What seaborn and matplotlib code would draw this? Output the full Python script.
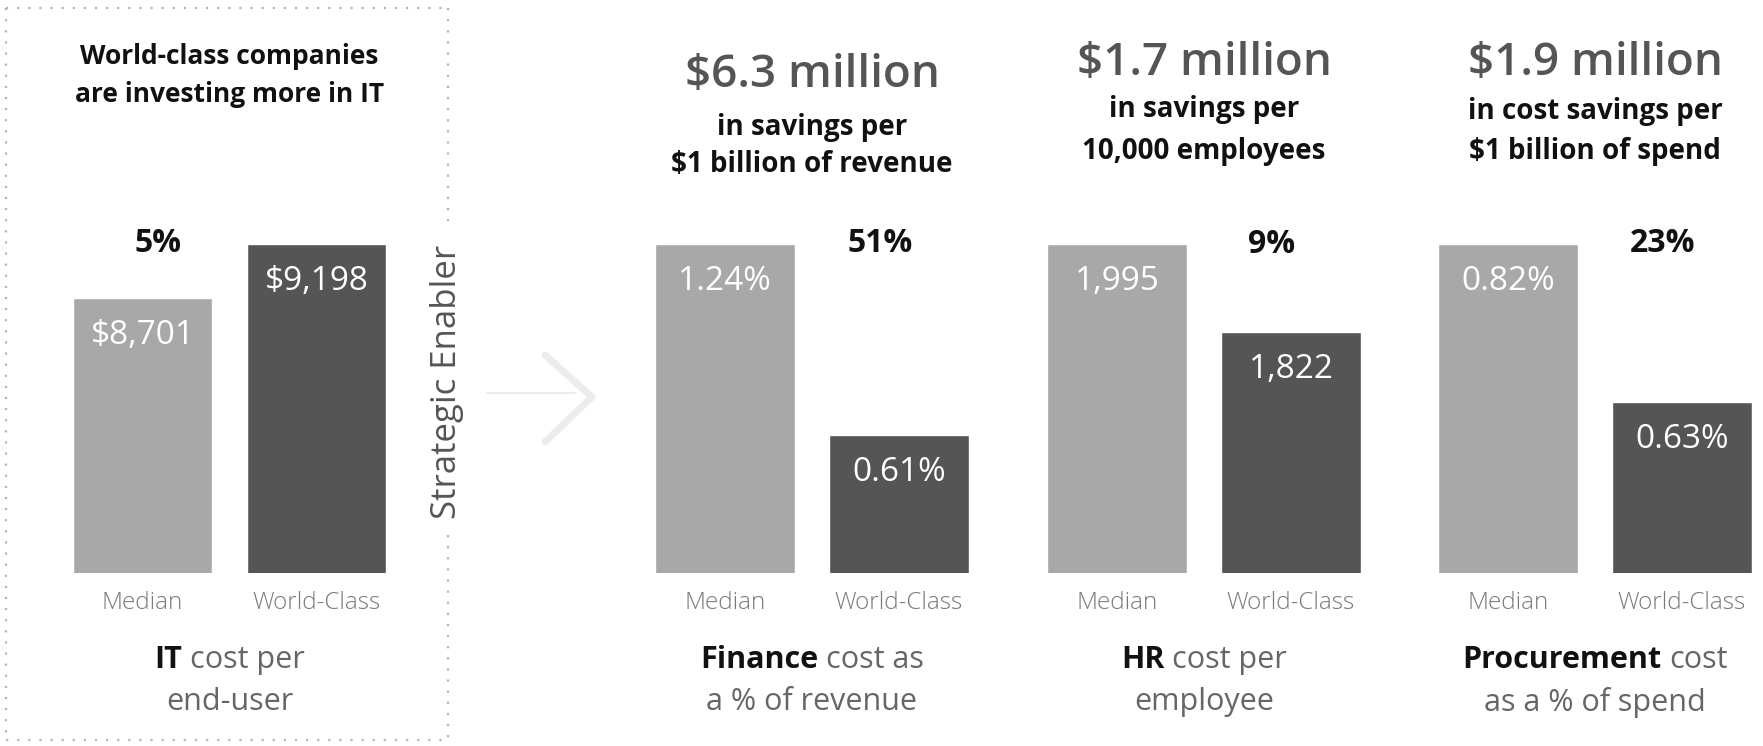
import matplotlib
matplotlib.use("Agg")
import matplotlib.pyplot as plt
from matplotlib.lines import Line2D
import seaborn as sns
import pandas as pd

# ---------------- data ----------------
categories = ["Median", "World-Class"]
it_values = [8701, 9198]
finance_values = [1.24, 0.61]
hr_values = [1995, 1822]
procurement_values = [0.82, 0.63]

it_labels = ["$8,701", "$9,198"]
finance_labels = ["1.24%", "0.61%"]
hr_labels = ["1,995", "1,822"]
procurement_labels = ["0.82%", "0.63%"]

gap_labels = ["5%", "51%", "9%", "23%"]

headline_amounts = ["$6.3 million", "$1.7 million", "$1.9 million"]
headline_line1 = ["in savings per", "in savings per", "in cost savings per"]
headline_line2 = ["$1 billion of revenue", "10,000 employees", "$1 billion of spend"]

caption_bold = ["IT", "Finance", "HR", "Procurement"]
caption_rest1 = ["cost per", "cost as", "cost per", "cost"]
caption_line2 = ["end-user", "a % of revenue", "employee", "as a % of spend"]

it_title = ["World-class companies", "are investing more in IT"]
side_label = "Strategic Enabler"

# ---------------- styling / layout ----------------
sns.set_theme(style="white")
plt.rcParams["font.family"] = ["Open Sans", "DejaVu Sans"]

W, H = 1763, 746
DPI = 100
fig = plt.figure(figsize=(W / DPI, H / DPI), dpi=DPI)
fig.patch.set_facecolor("white")

C_MED = "#a8a8a8"
C_WC = "#555555"

def fx(x):
    return x / W

def fy(y):
    return 1 - y / H

panel_values = [it_values, finance_values, hr_values, procurement_values]
panel_labels = [it_labels, finance_labels, hr_labels, procurement_labels]
axis_floor = [6170, 0.157, 1350, 0.424]   # truncated value axes
bar0_center = [142.5, 725, 1117, 1508]
unit = 174
ax_top, ax_bot = 244, 573
gap_xpos = [0.09, 0.89, 0.89, 0.89]

axes = []
for i in range(4):
    left = bar0_center[i] - 0.42 * unit
    ax = fig.add_axes([fx(left), fy(ax_bot), 1.84 * unit / W, (ax_bot - ax_top) / H])
    df = pd.DataFrame({"cat": categories, "val": panel_values[i]})
    sns.barplot(data=df, x="cat", y="val", hue="cat", palette=[C_MED, C_WC],
                order=categories, hue_order=categories, width=0.8,
                saturation=1, legend=False, ax=ax)
    ax.set_xlim(-0.42, 1.42)
    ax.set_ylim(axis_floor[i], max(panel_values[i]))
    for s in ax.spines.values():
        s.set_visible(False)
    ax.set_yticks([])
    ax.set_xlabel("")
    ax.set_ylabel("")
    ax.tick_params(axis="x", length=0, pad=13, labelsize=17.5, labelcolor="#7a7a7a")
    for tl in ax.get_xticklabels():
        tl.set_fontweight("light")
    ax.set_facecolor("none")
    for j, v in enumerate(panel_values[i]):
        ax.annotate(panel_labels[i][j], (j, v), xytext=(0, -27), textcoords="offset points",
                    ha="center", va="center", color="white", fontsize=24,
                    annotation_clip=False)
    ax.text(gap_xpos[i], max(panel_values[i]), gap_labels[i], ha="center", va="center",
            fontsize=23, weight="bold", color="#111111", clip_on=False)
    axes.append(ax)

panel_center = [c + unit / 2 for c in bar0_center]

# IT panel title
fig.text(fx(panel_center[0]), fy(57), it_title[0], ha="center", va="center",
         fontsize=19, weight="bold", color="#111111")
fig.text(fx(panel_center[0]), fy(95), it_title[1], ha="center", va="center",
         fontsize=19, weight="bold", color="#111111")

# headlines for the other panels
head_y = [(76, 128, 165), (63, 110, 151), (63, 111, 151)]
for k in range(3):
    cx = panel_center[k + 1]
    y0, y1, y2 = head_y[k]
    fig.text(fx(cx), fy(y0), headline_amounts[k], ha="center", va="center",
             fontsize=33, weight="semibold", color="#555555")
    fig.text(fx(cx), fy(y1), headline_line1[k], ha="center", va="center",
             fontsize=20, weight="bold", color="#111111")
    fig.text(fx(cx), fy(y2), headline_line2[k], ha="center", va="center",
             fontsize=20, weight="bold", color="#111111")

# captions under the panels (mixed bold / regular)
renderer = fig.canvas.get_renderer()
for i in range(4):
    cx = panel_center[i]
    t1 = fig.text(0, fy(660), caption_bold[i], ha="left", va="center",
                  fontsize=22, weight="bold", color="#111111")
    t2 = fig.text(0, fy(660), caption_rest1[i], ha="left", va="center",
                  fontsize=22, color="#666666")
    tsp = fig.text(0, 0, "a a", fontsize=22)
    tnsp = fig.text(0, 0, "aa", fontsize=22)
    w1 = t1.get_window_extent(renderer).width
    w2 = t2.get_window_extent(renderer).width
    ws = tsp.get_window_extent(renderer).width - tnsp.get_window_extent(renderer).width
    tsp.remove()
    tnsp.remove()
    start = cx - (w1 + ws + w2) / 2
    t1.set_x(fx(start))
    t2.set_x(fx(start + w1 + ws))
    fig.text(fx(cx), fy(702), caption_line2[i], ha="center", va="center",
             fontsize=22, color="#666666")

# side label
fig.text(fx(447), fy(382), side_label, rotation=90, ha="center", va="center",
         fontsize=25, color="#555555")

# dotted frame around IT panel
dot = dict(transform=fig.transFigure, color="#b5b5b5", lw=1.6,
           linestyle=(0, (1, 4)))
xl, xr, yt, yb = 6, 448, 8, 740
for seg in [([xl, xr], [yt, yt]), ([xl, xr], [yb, yb]), ([xl, xl], [yt, yb]),
            ([xr, xr], [yt, 228]), ([xr, xr], [535, yb])]:
    fig.add_artist(Line2D([fx(v) for v in seg[0]], [fy(v) for v in seg[1]], **dot))

# faint arrow
arrow_kw = dict(transform=fig.transFigure, color="#ececec", solid_capstyle="round")
fig.add_artist(Line2D([fx(487), fx(575)], [fy(393), fy(393)], lw=1.5, **arrow_kw))
fig.add_artist(Line2D([fx(545), fx(592), fx(545)], [fy(355), fy(397), fy(442)], lw=5,
                      **arrow_kw))

fig.savefig("out.png", dpi=DPI, facecolor="white")
